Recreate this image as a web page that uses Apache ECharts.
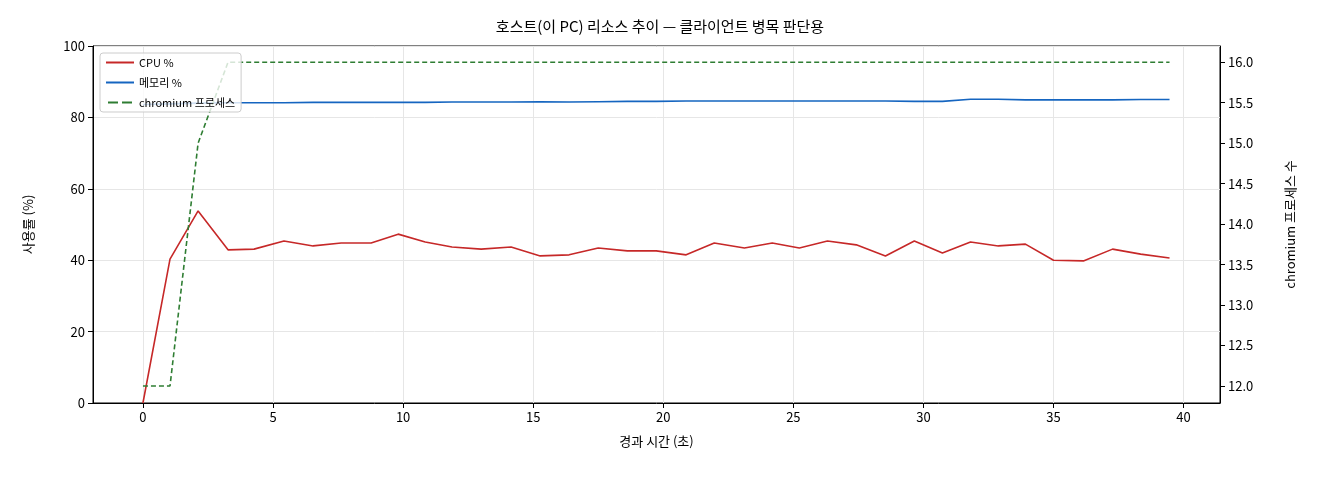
<!DOCTYPE html>
<html><head><meta charset="utf-8">
<script src="https://cdn.jsdelivr.net/npm/echarts@6/dist/echarts.min.js"></script>
<style>html,body{margin:0;padding:0;background:#fff}#c{width:1320px;height:480px}</style>
</head><body><div id="c"></div>
<script>
const xs=[0,1.04,2.12,3.27,4.27,5.42,6.54,7.62,8.77,9.81,10.85,11.88,13.0,14.15,15.27,16.38,17.5,18.62,19.73,20.88,21.96,23.12,24.19,25.23,26.31,27.42,28.54,29.65,30.73,31.81,32.88,33.92,35.0,36.15,37.27,38.35,39.46];
const cpu=[0,40.3,53.8,42.9,43.1,45.4,44.0,44.8,44.8,47.3,45.1,43.7,43.1,43.7,41.2,41.5,43.4,42.6,42.6,41.5,44.8,43.4,44.8,43.4,45.4,44.3,41.2,45.4,42.0,45.1,44.0,44.5,40.0,39.8,43.1,41.7,40.6];
const mem=[83.6,83.8,84.0,84.1,84.1,84.1,84.2,84.2,84.2,84.2,84.2,84.3,84.3,84.3,84.4,84.3,84.4,84.5,84.5,84.6,84.6,84.6,84.6,84.6,84.6,84.6,84.6,84.5,84.5,85.1,85.1,84.9,84.9,84.9,84.9,85.0,85.0];
const procs=[12,12,15,16,16,16,16,16,16,16,16,16,16,16,16,16,16,16,16,16,16,16,16,16,16,16,16,16,16,16,16,16,16,16,16,16,16];
const xTicks=[0,5,10,15,20,25,30,35,40];
const F='"Noto Sans CJK KR", "DejaVu Sans", sans-serif';
const z=a=>xs.map((x,i)=>[x,a[i]]);
const ch=echarts.init(document.getElementById('c'));
ch.setOption({
 animation:false,
 textStyle:{fontFamily:F},
 title:{text:'호스트(이 PC) 리소스 추이 — 클라이언트 병목 판단용',left:'center',top:14,textStyle:{fontFamily:F,fontSize:15,fontWeight:'normal',color:'#000'}},
 grid:{left:93,right:100,top:46,bottom:77,show:true,borderColor:'#000',borderWidth:1},
 legend:{left:100,top:53,orient:'vertical',itemWidth:28,itemHeight:2,itemGap:9,backgroundColor:'rgba(255,255,255,0.8)',borderColor:'#ccc',borderWidth:1,borderRadius:3,padding:[4,6],textStyle:{fontSize:11,color:'#000'},
  data:[{name:'CPU %',icon:'rect'},{name:'메모리 %',icon:'rect'},{name:'chromium 프로세스',icon:'path://M0,0H10V2H0ZM14,0H24V2H14Z'}]},
 xAxis:{type:'value',min:-1.92,max:41.4,name:'경과 시간 (초)',nameLocation:'middle',nameGap:32,nameTextStyle:{fontSize:13,color:'#000'},
  axisLine:{onZero:false,lineStyle:{color:'#000'}},axisTick:{customValues:xTicks,lineStyle:{color:'#000'}},axisLabel:{customValues:xTicks,fontSize:13,color:'#000'},
  splitLine:{show:true,lineStyle:{color:'#e6e6e6'}}},
 yAxis:[{type:'value',min:0,max:100,interval:20,name:'사용률 (%)',nameLocation:'middle',nameGap:58,nameTextStyle:{fontSize:13,color:'#000'},
  axisLine:{show:true,onZero:false,lineStyle:{color:'#000'}},axisTick:{show:true},axisLabel:{fontSize:13,color:'#000'},splitLine:{lineStyle:{color:'#e6e6e6'}}},
  {type:'value',min:11.79,max:16.2,name:'chromium 프로세스 수',nameLocation:'middle',nameGap:64,nameRotate:90,nameTextStyle:{fontSize:13,color:'#000'},
  axisLine:{show:true,onZero:false,lineStyle:{color:'#000'}},axisTick:{show:true,customValues:[12,12.5,13,13.5,14,14.5,15,15.5,16]},
  axisLabel:{customValues:[12,12.5,13,13.5,14,14.5,15,15.5,16],formatter:v=>v.toFixed(1),fontSize:13,color:'#000'},splitLine:{show:false}}],
 series:[
  {name:'CPU %',type:'line',data:z(cpu),symbol:'none',lineStyle:{color:'#c62828',width:1.6},itemStyle:{color:'#c62828'}},
  {name:'메모리 %',type:'line',data:z(mem),symbol:'none',lineStyle:{color:'#1565c0',width:1.6},itemStyle:{color:'#1565c0'}},
  {name:'chromium 프로세스',type:'line',yAxisIndex:1,data:z(procs),symbol:'none',lineStyle:{color:'#2e7d32',width:1.6,type:[5,3]},itemStyle:{color:'#2e7d32'}}
 ]
});
</script></body></html>
